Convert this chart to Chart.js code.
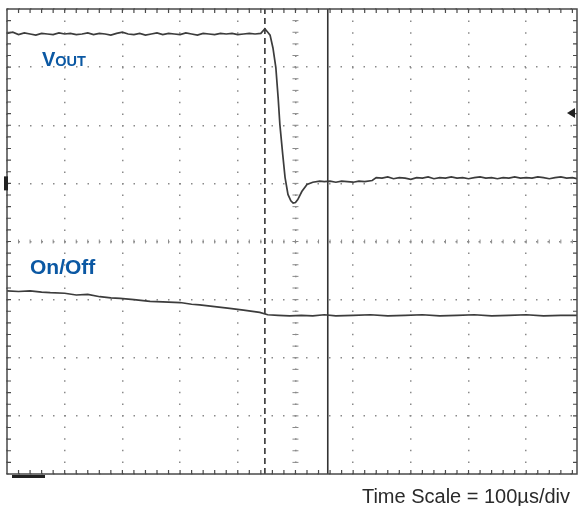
<!DOCTYPE html>
<html>
<head>
<meta charset="utf-8">
<script src="https://cdn.jsdelivr.net/npm/chart.js@4/dist/chart.umd.min.js"></script>
<style>
  html, body { margin: 0; padding: 0; background: #fff; }
  #scope { display: block; }
</style>
</head>
<body>
<canvas id="scope" width="585" height="506"></canvas>
<script>
// ── data (time in µs, amplitude in divisions) ───────────────────────────
var xGrid = [0, 100, 200, 300, 400, 500, 600, 700, 800, 900];
var yGrid = [-4, -3, -2, -1, 0, 1, 2, 3, 4];

var voutT = [0, 10, 20, 30, 40, 50, 60, 70, 80, 90, 100, 110, 120, 130, 140, 150, 160, 170, 180, 190,
             200, 210, 220, 230, 240, 250, 260, 270, 280, 290, 300, 310, 320, 330, 340, 350, 360, 370, 380, 390,
             400, 410, 420, 430, 440, 447, 452, 456, 461, 466, 470, 473, 478, 482, 487, 492, 496, 500, 504, 511,
             520, 530, 542, 550, 560, 570, 580, 590, 600, 610, 620, 633, 640, 650, 660, 670, 680, 690, 700,
             710, 720, 730, 740, 750, 760, 770, 780, 790, 800, 810, 820, 830, 840, 850, 860, 870, 880, 890,
             900, 910, 920, 930, 940, 950, 960, 970, 980, 988];
var voutV = [3.58, 3.60, 3.56, 3.59, 3.57, 3.55, 3.58, 3.57, 3.56, 3.59, 3.57, 3.58, 3.56, 3.57, 3.59, 3.56, 3.58, 3.57, 3.55, 3.58,
             3.60, 3.57, 3.56, 3.58, 3.55, 3.57, 3.59, 3.56, 3.58, 3.57, 3.56, 3.59, 3.57, 3.55, 3.58, 3.57, 3.56, 3.58, 3.57, 3.58,
             3.56, 3.57, 3.58, 3.57, 3.58, 3.66, 3.60, 3.55, 3.33, 2.99, 2.47, 2.01, 1.49, 1.10, 0.81, 0.70, 0.66, 0.67, 0.72, 0.86,
             0.98, 1.02, 1.04, 1.03, 1.04, 1.02, 1.04, 1.03, 1.02, 1.04, 1.03, 1.05, 1.10, 1.09, 1.11, 1.08, 1.10, 1.09, 1.07,
             1.10, 1.09, 1.11, 1.08, 1.10, 1.09, 1.11, 1.09, 1.10, 1.08, 1.10, 1.11, 1.09, 1.10, 1.08, 1.10, 1.09, 1.11, 1.09,
             1.10, 1.09, 1.11, 1.10, 1.08, 1.10, 1.11, 1.09, 1.10, 1.08];

var onoffT = [0, 20, 40, 60, 75, 100, 120, 140, 161, 180, 196, 220, 248, 270, 300, 320, 334, 360, 386, 410,
              438, 452, 470, 490, 510, 530, 550, 570, 600, 630, 660, 690, 720, 750, 780, 810, 840, 870, 900,
              930, 960, 988];
var onoffV = [-0.85, -0.86, -0.85, -0.87, -0.88, -0.89, -0.92, -0.91, -0.95, -0.97, -0.98, -1.00, -1.03, -1.04, -1.05, -1.08, -1.09, -1.12, -1.15, -1.18,
              -1.22, -1.26, -1.27, -1.28, -1.27, -1.28, -1.26, -1.28, -1.27, -1.26, -1.28, -1.27, -1.26, -1.28, -1.27, -1.26, -1.28, -1.27, -1.26,
              -1.28, -1.27, -1.27];

var cursors = [447, 556];   // dashed, solid

function pts(t, v) {
    return t.map(function(x, i) { return { x: x, y: v[i] }; });
}

// ── decorations: frame, minor ticks, markers, labels ─────────────────────
var scopeDeco = {
    id: 'scopeDeco',
    afterDatasetsDraw: function(chart) {
        var ctx = chart.ctx, a = chart.chartArea;
        var sx = chart.scales.x, sy = chart.scales.y;
        ctx.save();
        ctx.strokeStyle = '#4a4a4a';
        ctx.lineWidth = 1.5;
        ctx.strokeRect(a.left, a.top, a.right - a.left, a.bottom - a.top);

        ctx.lineWidth = 1.2;
        ctx.beginPath();
        for (var t = 20; t < 988; t += 20) {
            var px = sx.getPixelForValue(t);
            ctx.moveTo(px, a.top); ctx.lineTo(px, a.top + 4);
            ctx.moveTo(px, a.bottom); ctx.lineTo(px, a.bottom - 4);
        }
        for (var d = -3.8; d < 4; d += 0.2) {
            var py = sy.getPixelForValue(d);
            ctx.moveTo(a.left, py); ctx.lineTo(a.left + 4, py);
            ctx.moveTo(a.right, py); ctx.lineTo(a.right - 4, py);
        }
        ctx.stroke();

        // centre cross minor ticks
        var cx = sx.getPixelForValue(500), cy = sy.getPixelForValue(0);
        ctx.strokeStyle = '#8a8a8a';
        ctx.lineWidth = 1;
        ctx.beginPath();
        for (var t2 = 20; t2 < 988; t2 += 20) {
            var qx = sx.getPixelForValue(t2);
            ctx.moveTo(qx, cy - 2); ctx.lineTo(qx, cy + 2);
        }
        for (var d2 = -3.8; d2 < 4; d2 += 0.2) {
            var qy = sy.getPixelForValue(d2);
            ctx.moveTo(cx - 3, qy); ctx.lineTo(cx + 3, qy);
        }
        ctx.stroke();

        // ground marker, trigger arrow, bottom bar
        ctx.fillStyle = '#222';
        var gy = sy.getPixelForValue(1.0);
        ctx.fillRect(a.left - 3, gy - 7, 4, 14);
        var ty = sy.getPixelForValue(2.21);
        ctx.beginPath();
        ctx.moveTo(a.right - 10, ty); ctx.lineTo(a.right - 2, ty - 5); ctx.lineTo(a.right - 2, ty + 5);
        ctx.closePath(); ctx.fill();
        ctx.fillRect(a.left + 5, a.bottom + 1, 33, 3);

        // labels
        ctx.fillStyle = '#0b58a3';
        ctx.textBaseline = 'alphabetic';
        ctx.font = 'bold 20px "Liberation Sans", Arial, sans-serif';
        ctx.fillText('V', 42, 66);
        var w = ctx.measureText('V').width;
        ctx.font = 'bold 14.5px "Liberation Sans", Arial, sans-serif';
        ctx.fillText('OUT', 42 + w, 66);
        ctx.font = 'bold 21px "Liberation Sans", Arial, sans-serif';
        ctx.fillText('On/Off', 30, 274);

        ctx.fillStyle = '#2a2a2a';
        ctx.font = '20px "Liberation Sans", Arial, sans-serif';
        ctx.textAlign = 'right';
        ctx.fillText('Time Scale = 100\u00b5s/div', 570, 503);
        ctx.restore();
    }
};

var traceStyle = { borderColor: '#3c3c3c', borderWidth: 1.7, pointRadius: 0, fill: false, tension: 0 };

new Chart(document.getElementById('scope'), {
    type: 'line',
    data: {
        datasets: [
            Object.assign({ label: 'VOUT', data: pts(voutT, voutV) }, traceStyle),
            Object.assign({ label: 'On/Off', data: pts(onoffT, onoffV) }, traceStyle),
            { label: 'cursor 1', data: [{ x: cursors[0], y: -4 }, { x: cursors[0], y: 4 }],
              borderColor: '#333', borderWidth: 1.6, borderDash: [6, 4], pointRadius: 0 },
            { label: 'cursor 2', data: [{ x: cursors[1], y: -4 }, { x: cursors[1], y: 4 }],
              borderColor: '#333', borderWidth: 1.6, pointRadius: 0 }
        ]
    },
    options: {
        responsive: false,
        animation: false,
        layout: { padding: { left: 7, top: 9, right: 8, bottom: 32 } },
        plugins: { legend: { display: false }, tooltip: { enabled: false } },
        scales: {
            x: {
                type: 'linear', min: 0, max: 988,
                afterBuildTicks: function(s) { s.ticks = xGrid.map(function(v) { return { value: v }; }); },
                ticks: { display: false },
                grid: { color: '#8a8a8a', lineWidth: 1.5, drawTicks: false },
                border: { display: false, dash: [1.5, 10.1] }
            },
            y: {
                type: 'linear', min: -4, max: 4,
                afterBuildTicks: function(s) { s.ticks = yGrid.map(function(v) { return { value: v }; }); },
                ticks: { display: false },
                grid: { color: '#8a8a8a', lineWidth: 1.5, drawTicks: false },
                border: { display: false, dash: [1.5, 10] }
            }
        }
    },
    plugins: [scopeDeco]
});
</script>
</body>
</html>
